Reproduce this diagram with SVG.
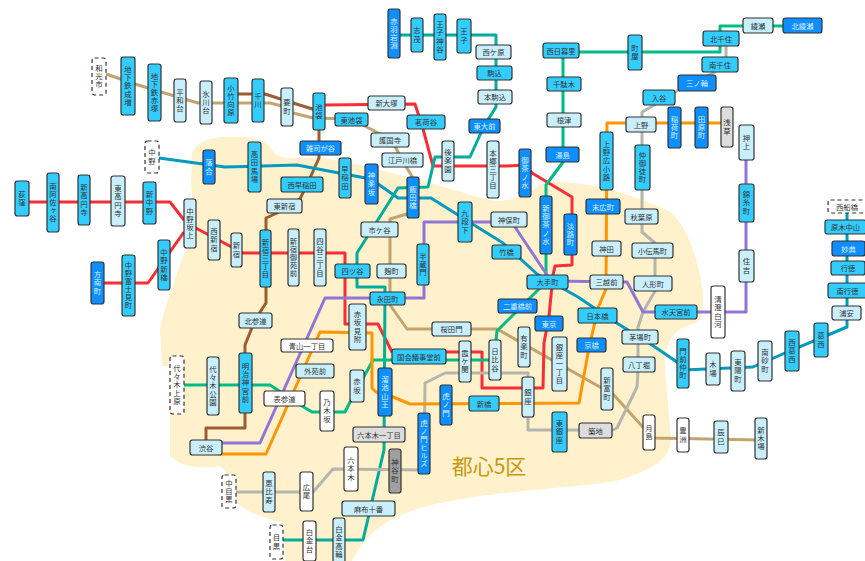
<svg xmlns="http://www.w3.org/2000/svg" width="865" height="561" viewBox="0 0 865 561">
<style>
text{font-family:"Noto Sans CJK JP","Noto Sans",sans-serif;fill:#333;text-anchor:middle}
.h text{font-size:7.3px;dominant-baseline:central}
.v text{font-size:7.4px;writing-mode:vertical-rl;text-orientation:upright;letter-spacing:.7px}
rect{stroke:#333;stroke-width:1.2px;rx:2.5px}
.cy rect{fill:#33ccff}
.bl rect{fill:#0f8fff}
.bl text{fill:#d8f2ff}
.li rect{fill:#c9effd}
.wh rect{fill:#fff}
.gr rect{fill:#ddd}
.dk rect{fill:#a0a0a0}
.da rect{fill:#fff;stroke-dasharray:4 3}
polyline{fill:none;stroke-width:3px;stroke-linejoin:round}
.tan{stroke:#c1a470}.bro{stroke:#9c5e31}.red{stroke:#f62e36}.toz{stroke:#009bbf}.chi{stroke:#00bb85}.nam{stroke:#00ac9b}.hib{stroke:#b5b5ac}.gin{stroke:#ff9500}.han{stroke:#8f76d6}
</style>
<path id="area" fill="#fef1cc" d="M192 165C188 145 205 137 227 137C250 136 265 138 272 150C278 160 290 158 317 158C345 160 380 170 407 177C425 180 450 190 490 200C510 204 525 195 537 187C545 180 560 180 600 187C630 194 650 203 667 210C685 220 700 260 703 295C704 315 703 320 690 325C672 330 664 345 665 370L671 440C671 460 650 470 620 480C590 487 500 490 440 503C400 512 370 525 352 561L285 561L283 523C265 518 240 512 232 495C230 480 228 470 218 466C200 470 180 466 170 456L170 366L162 366L160 330C165 300 190 240 197 220C192 205 190 185 192 165Z"/>
<text x="489" y="465" style="font-size:21px;fill:#c9980f;dominant-baseline:central">都心5区</text>
<g id="connectors">
<polyline class="tan" points="106,74 135,84 161,92 198,103 206,103 270,103 282,106 293,113 313,118 351,119 392,140 402,160 413,178 413,214 407,214 390,219 390,305 407,329 497,329 600,387 613,394 650,435 655,438 761,440"/>
<polyline class="bro" points="238,94 265,94 293,103 319,111 319,158 310,178 300,199 284,206 277,213 266,218 266,303 255,320 245,345 245,428 206,428 206,445"/>
<polyline class="red" points="29,202 170,202 184,220"/>
<polyline class="red" points="104,283 148,283 184,232"/>
<polyline class="red" points="190,225 243,253 345,253 345,324 378,324 392,352 482,352 482,388 543,388 544,343 549,316 553,275 555,266 572,265 572,197 532,173 525,165 507,166 433,166 423,129 415,104 325,105"/>
<polyline class="toz" points="159,158 203,164 225,167 297,165 339,173 371,179 398,198 431,198 458,215 503,243 537,274 578,297 615,322 649,343 677,362 683,370 753,367 785,353 828,335 847,327 847,213"/>
<polyline class="nam" points="394,35 496,35 496,107 484,126 470,157 435,157 428,187 398,188 357,253 357,287 385,287 384,450 363,540 283,540"/>
<polyline class="chi" points="783,26 720,26 720,52 563,52 563,162 546,185 546,282 497,331 494,360 373,360 350,402 345,412 312,412 302,406 270,385 184,385"/>
<polyline class="hib" points="726,40 726,57 715,72 675,92 651,107 642,112 642,232 655,243 655,291 643,312 638,327 638,372 637,387 617,428 613,430 528,430 528,373 445,373 425,383 424,470 333,469 313,492 236,492"/>
<polyline class="gin" points="727,123 607,123 606,289 598,308 588,353 579,403 410,404 393,397 376,392 372,388 372,333 320,332 266,454 218,454"/>
<polyline class="han" points="218,443 260,443 325,298 424,298 424,222 517,222 515,227 547,275 550,281 627,282 643,312 746,312 746,150"/>
</g>
<g id="st-和光市" class="v da"><rect x="92" y="58" width="14" height="37"/><text x="99" y="76.500">和光市</text></g>
<g id="st-地下鉄成増" class="v cy"><rect x="121" y="57" width="14" height="58"/><text x="128" y="86">地下鉄成増</text></g>
<g id="st-地下鉄赤塚" class="v cy"><rect x="148" y="64" width="13" height="57"/><text x="154.500" y="92.500">地下鉄赤塚</text></g>
<g id="st-平和台" class="v li"><rect x="174" y="79" width="12" height="43"/><text x="180" y="100.500">平和台</text></g>
<g id="st-氷川台" class="v li"><rect x="200" y="81" width="12" height="43"/><text x="206" y="102.500">氷川台</text></g>
<g id="st-小竹向原" class="v cy"><rect x="224" y="78" width="14" height="45"/><text x="231" y="100.500">小竹向原</text></g>
<g id="st-千川" class="v cy"><rect x="252" y="79" width="12" height="43"/><text x="258" y="100.500">千川</text></g>
<g id="st-要町" class="v li"><rect x="281" y="88" width="12" height="38"/><text x="287" y="107">要町</text></g>
<g id="st-池袋" class="v cy"><rect x="313" y="93" width="12" height="37"/><text x="319" y="111.500">池袋</text></g>
<g id="st-赤羽岩淵" class="v bl"><rect x="388" y="9" width="12" height="49"/><text x="394" y="33.500">赤羽岩淵</text></g>
<g id="st-志茂" class="v cy"><rect x="411" y="18" width="12" height="34"/><text x="417" y="35">志茂</text></g>
<g id="st-王子神谷" class="v cy"><rect x="434" y="14" width="12" height="46"/><text x="440" y="37">王子神谷</text></g>
<g id="st-王子" class="v cy"><rect x="457" y="19" width="14" height="34"/><text x="464" y="36">王子</text></g>
<g id="st-西ケ原" class="h li"><rect x="476" y="45" width="35" height="14"/><text x="493.500" y="52">西ケ原</text></g>
<g id="st-駒込" class="h cy"><rect x="477" y="66" width="35" height="14"/><text x="494.500" y="73">駒込</text></g>
<g id="st-本駒込" class="h li"><rect x="478" y="90" width="34" height="14"/><text x="495" y="97">本駒込</text></g>
<g id="st-東大前" class="h bl"><rect x="469" y="119" width="31" height="14"/><text x="484.500" y="126">東大前</text></g>
<g id="st-新大塚" class="h li"><rect x="368" y="96" width="37" height="14"/><text x="386.500" y="103">新大塚</text></g>
<g id="st-茗荷谷" class="h cy"><rect x="407" y="115" width="38" height="14"/><text x="426" y="122">茗荷谷</text></g>
<g id="st-東池袋" class="h cy"><rect x="335" y="113" width="33" height="13"/><text x="351.500" y="119.500">東池袋</text></g>
<g id="st-護国寺" class="h li"><rect x="371" y="133" width="38" height="14"/><text x="390" y="140">護国寺</text></g>
<g id="st-江戸川橋" class="h li"><rect x="382" y="153" width="41" height="14"/><text x="402.500" y="160">江戸川橋</text></g>
<g id="st-雑司が谷" class="h bl"><rect x="300" y="141" width="41" height="14"/><text x="320.500" y="148">雑司が谷</text></g>
<g id="st-後楽園" class="v li"><rect x="442" y="141" width="12" height="40"/><text x="448" y="161">後楽園</text></g>
<g id="st-本郷三丁目" class="v li"><rect x="487" y="141" width="12" height="57"/><text x="493" y="169.500">本郷三丁目</text></g>
<g id="st-御茶ノ水" class="v bl"><rect x="519" y="149" width="12" height="48"/><text x="525" y="173">御茶ノ水</text></g>
<g id="st-西日暮里" class="h cy"><rect x="543" y="43" width="36" height="15"/><text x="561" y="50.500">西日暮里</text></g>
<g id="st-千駄木" class="h cy"><rect x="547" y="77" width="34" height="14"/><text x="564" y="84">千駄木</text></g>
<g id="st-根津" class="h li"><rect x="547" y="113" width="34" height="14"/><text x="564" y="120">根津</text></g>
<g id="st-湯島" class="h bl"><rect x="546" y="147" width="33" height="15"/><text x="562.500" y="154.500">湯島</text></g>
<g id="st-町屋" class="v cy"><rect x="628" y="35" width="14" height="35"/><text x="635" y="52.500">町屋</text></g>
<g id="st-北千住" class="h cy"><rect x="703" y="31" width="36" height="15"/><text x="721" y="38.500">北千住</text></g>
<g id="st-綾瀬" class="h li"><rect x="743" y="18" width="30" height="15"/><text x="758" y="25.500">綾瀬</text></g>
<g id="st-北綾瀬" class="h bl"><rect x="783" y="18" width="39" height="15"/><text x="802.500" y="25.500">北綾瀬</text></g>
<g id="st-南千住" class="h cy"><rect x="702" y="57" width="36" height="15"/><text x="720" y="64.500">南千住</text></g>
<g id="st-三ノ輪" class="h bl"><rect x="678" y="75" width="38" height="16"/><text x="697" y="83">三ノ輪</text></g>
<g id="st-入谷" class="h cy"><rect x="643" y="90" width="32" height="15"/><text x="659" y="97.500">入谷</text></g>
<g id="st-上野" class="h li"><rect x="626" y="117" width="30" height="15"/><text x="641" y="124.500">上野</text></g>
<g id="st-稲荷町" class="v bl"><rect x="668" y="107" width="13" height="41"/><text x="674.500" y="127.500">稲荷町</text></g>
<g id="st-田原町" class="v bl"><rect x="695" y="107" width="13" height="41"/><text x="701.500" y="127.500">田原町</text></g>
<g id="st-浅草" class="v gr"><rect x="721" y="107" width="12" height="40"/><text x="727" y="127">浅草</text></g>
<g id="st-押上" class="v li"><rect x="739" y="125" width="15" height="35"/><text x="746.500" y="142.500">押上</text></g>
<g id="st-上野広小路" class="v cy"><rect x="600" y="132" width="13" height="58"/><text x="606.500" y="161">上野広小路</text></g>
<g id="st-仲御徒町" class="v cy"><rect x="635" y="145" width="15" height="45"/><text x="642.500" y="167.500">仲御徒町</text></g>
<g id="st-錦糸町" class="v cy"><rect x="739" y="184" width="15" height="38"/><text x="746.500" y="203">錦糸町</text></g>
<g id="st-住吉" class="v li"><rect x="739" y="250" width="15" height="32"/><text x="746.500" y="266">住吉</text></g>
<g id="st-末広町" class="h bl"><rect x="586" y="199" width="34" height="15"/><text x="603" y="206.500">末広町</text></g>
<g id="st-秋葉原" class="h li"><rect x="625" y="209" width="33" height="15"/><text x="641.500" y="216.500">秋葉原</text></g>
<g id="st-神田" class="h li"><rect x="592" y="241" width="29" height="15"/><text x="606.500" y="248.500">神田</text></g>
<g id="st-小伝馬町" class="h li"><rect x="632" y="243" width="41" height="15"/><text x="652.500" y="250.500">小伝馬町</text></g>
<g id="st-三越前" class="h li"><rect x="590" y="275" width="33" height="14"/><text x="606.500" y="282">三越前</text></g>
<g id="st-人形町" class="h li"><rect x="634" y="276" width="38" height="15"/><text x="653" y="283.500">人形町</text></g>
<g id="st-水天宮前" class="h cy"><rect x="655" y="305" width="42" height="14"/><text x="676" y="312">水天宮前</text></g>
<g id="st-清澄白河" class="v wh"><rect x="711" y="286" width="14" height="52"/><text x="718" y="312">清澄白河</text></g>
<g id="st-日本橋" class="h cy"><rect x="578" y="308" width="39" height="15"/><text x="597.500" y="315.500">日本橋</text></g>
<g id="st-茅場町" class="h li"><rect x="622" y="330" width="36" height="14"/><text x="640" y="337">茅場町</text></g>
<g id="st-八丁堀" class="h li"><rect x="623" y="357" width="32" height="15"/><text x="639" y="364.500">八丁堀</text></g>
<g id="st-京橋" class="h bl"><rect x="577" y="338" width="29" height="14"/><text x="591.500" y="345">京橋</text></g>
<g id="st-門前仲町" class="v cy"><rect x="677" y="339" width="12" height="49"/><text x="683" y="363.500">門前仲町</text></g>
<g id="st-木場" class="v li"><rect x="706" y="353" width="14" height="32"/><text x="713" y="369">木場</text></g>
<g id="st-東陽町" class="v li"><rect x="731" y="351" width="14" height="40"/><text x="738" y="371">東陽町</text></g>
<g id="st-南砂町" class="v li"><rect x="758" y="341" width="14" height="40"/><text x="765" y="361">南砂町</text></g>
<g id="st-西葛西" class="v cy"><rect x="785" y="331" width="14" height="40"/><text x="792" y="351">西葛西</text></g>
<g id="st-葛西" class="v cy"><rect x="814" y="323" width="14" height="34"/><text x="821" y="340">葛西</text></g>
<g id="st-浦安" class="h li"><rect x="832" y="306" width="29" height="14"/><text x="846.500" y="313">浦安</text></g>
<g id="st-南行徳" class="h cy"><rect x="828" y="283" width="39" height="15"/><text x="847.500" y="290.500">南行徳</text></g>
<g id="st-行徳" class="h cy"><rect x="831" y="261" width="34" height="14"/><text x="848" y="268">行徳</text></g>
<g id="st-妙典" class="h bl"><rect x="832" y="241" width="33" height="15"/><text x="848.500" y="248.500">妙典</text></g>
<g id="st-原木中山" class="h cy"><rect x="825" y="220" width="41" height="14"/><text x="845.500" y="227">原木中山</text></g>
<g id="st-西船橋" class="h da"><rect x="828" y="200" width="38" height="13"/><text x="847" y="206.500">西船橋</text></g>
<g id="st-荻窪" class="v cy"><rect x="15" y="181" width="14" height="35"/><text x="22" y="198.500">荻窪</text></g>
<g id="st-南阿佐ヶ谷" class="v cy"><rect x="47" y="173" width="12" height="59"/><text x="53" y="202.500">南阿佐ヶ谷</text></g>
<g id="st-新高円寺" class="v cy"><rect x="78" y="175" width="12" height="50"/><text x="84" y="200">新高円寺</text></g>
<g id="st-東高円寺" class="v li"><rect x="111" y="176" width="14" height="50"/><text x="118" y="201">東高円寺</text></g>
<g id="st-新中野" class="v cy"><rect x="143" y="182" width="13" height="42"/><text x="149.500" y="203">新中野</text></g>
<g id="st-中野" class="v da"><rect x="145" y="141" width="14" height="32"/><text x="152" y="157">中野</text></g>
<g id="st-中野坂上" class="v li"><rect x="184" y="199" width="12" height="49"/><text x="190" y="223.500">中野坂上</text></g>
<g id="st-西新宿" class="v li"><rect x="208" y="220" width="12" height="40"/><text x="214" y="240">西新宿</text></g>
<g id="st-新宿" class="v li"><rect x="231" y="233" width="11" height="34"/><text x="236.500" y="250">新宿</text></g>
<g id="st-新宿三丁目" class="v cy"><rect x="260" y="230" width="11" height="57"/><text x="265.500" y="258.500">新宿三丁目</text></g>
<g id="st-新宿御苑前" class="v li"><rect x="288" y="229" width="11" height="57"/><text x="293.500" y="257.500">新宿御苑前</text></g>
<g id="st-四谷三丁目" class="v li"><rect x="314" y="229" width="12" height="57"/><text x="320" y="257.500">四谷三丁目</text></g>
<g id="st-中野新橋" class="v cy"><rect x="158" y="240" width="12" height="50"/><text x="164" y="265">中野新橋</text></g>
<g id="st-方南町" class="v bl"><rect x="91" y="262" width="13" height="42"/><text x="97.500" y="283">方南町</text></g>
<g id="st-中野富士見町" class="v cy"><rect x="122" y="255" width="13" height="61"/><text x="128.500" y="285.500">中野富士見町</text></g>
<g id="st-東新宿" class="h li"><rect x="267" y="199" width="35" height="14"/><text x="284.500" y="206">東新宿</text></g>
<g id="st-西早稲田" class="h cy"><rect x="281" y="177" width="42" height="15"/><text x="302" y="184.500">西早稲田</text></g>
<g id="st-早稲田" class="v cy"><rect x="339" y="158" width="12" height="40"/><text x="345" y="178">早稲田</text></g>
<g id="st-神楽坂" class="v bl"><rect x="365" y="164" width="13" height="40"/><text x="371.500" y="184">神楽坂</text></g>
<g id="st-高田馬場" class="v cy"><rect x="248" y="142" width="13" height="50"/><text x="254.500" y="167">高田馬場</text></g>
<g id="st-落合" class="v bl"><rect x="203" y="150" width="12" height="34"/><text x="209" y="167">落合</text></g>
<g id="st-飯田橋" class="v bl"><rect x="407" y="177" width="12" height="41"/><text x="413" y="197.500">飯田橋</text></g>
<g id="st-市ケ谷" class="h li"><rect x="361" y="222" width="37" height="15"/><text x="379.500" y="229.500">市ケ谷</text></g>
<g id="st-九段下" class="v cy"><rect x="458" y="202" width="14" height="40"/><text x="465" y="222">九段下</text></g>
<g id="st-神保町" class="h li"><rect x="491" y="212" width="36" height="15"/><text x="509" y="219.500">神保町</text></g>
<g id="st-竹橋" class="h cy"><rect x="492" y="245" width="29" height="14"/><text x="506.500" y="252">竹橋</text></g>
<g id="st-半蔵門" class="v cy"><rect x="417" y="244" width="12" height="41"/><text x="423" y="264.500">半蔵門</text></g>
<g id="st-四ツ谷" class="h cy"><rect x="335" y="264" width="35" height="14"/><text x="352.500" y="271">四ツ谷</text></g>
<g id="st-麹町" class="h li"><rect x="377" y="264" width="29" height="14"/><text x="391.500" y="271">麹町</text></g>
<g id="st-永田町" class="h cy"><rect x="370" y="292" width="35" height="13"/><text x="387.500" y="298.500">永田町</text></g>
<g id="st-大手町" class="h cy"><rect x="527" y="275" width="41" height="14"/><text x="547.500" y="282">大手町</text></g>
<g id="st-新御茶ノ水" class="v bl"><rect x="540" y="196" width="12" height="58"/><text x="546" y="225">新御茶ノ水</text></g>
<g id="st-淡路町" class="v bl"><rect x="564" y="214" width="13" height="41"/><text x="570.500" y="234.500">淡路町</text></g>
<g id="st-二重橋前" class="h bl"><rect x="498" y="299" width="39" height="14"/><text x="517.500" y="306">二重橋前</text></g>
<g id="st-東京" class="h bl"><rect x="535" y="316" width="28" height="15"/><text x="549" y="323.500">東京</text></g>
<g id="st-桜田門" class="h li"><rect x="432" y="322" width="39" height="14"/><text x="451.500" y="329">桜田門</text></g>
<g id="st-赤坂見附" class="v li"><rect x="349" y="304" width="17" height="46"/><text x="357.500" y="327">赤坂見附</text></g>
<g id="st-有楽町" class="v li"><rect x="518" y="327" width="12" height="40"/><text x="524" y="347">有楽町</text></g>
<g id="st-日比谷" class="v li"><rect x="489" y="340" width="12" height="40"/><text x="495" y="360">日比谷</text></g>
<g id="st-霞ケ関" class="v li"><rect x="459" y="341" width="12" height="41"/><text x="465" y="361.500">霞ケ関</text></g>
<g id="st-銀座一丁目" class="v li"><rect x="552" y="337" width="15" height="54"/><text x="559.500" y="364">銀座一丁目</text></g>
<g id="st-国会議事堂前" class="h cy"><rect x="392" y="349" width="54" height="15"/><text x="419" y="356.500">国会議事堂前</text></g>
<g id="st-溜池山王" class="v bl"><rect x="378" y="368" width="14" height="48"/><text x="385" y="392">溜池山王</text></g>
<g id="st-赤坂" class="v li"><rect x="350" y="370" width="14" height="32"/><text x="357" y="386">赤坂</text></g>
<g id="st-青山一丁目" class="h wh"><rect x="281" y="339" width="52" height="13"/><text x="307" y="345.500">青山一丁目</text></g>
<g id="st-外苑前" class="h li"><rect x="296" y="364" width="38" height="14"/><text x="315" y="371">外苑前</text></g>
<g id="st-表参道" class="h wh"><rect x="264" y="391" width="41" height="15"/><text x="284.500" y="398.500">表参道</text></g>
<g id="st-乃木坂" class="v wh"><rect x="320" y="391" width="14" height="40"/><text x="327" y="411">乃木坂</text></g>
<g id="st-代々木上原" class="v da"><rect x="170" y="356" width="14" height="58"/><text x="177" y="385">代々木上原</text></g>
<g id="st-代々木公園" class="v li"><rect x="207" y="357" width="12" height="58"/><text x="213" y="386">代々木公園</text></g>
<g id="st-明治神宮前" class="v cy"><rect x="239" y="353" width="13" height="60"/><text x="245.500" y="383">明治神宮前</text></g>
<g id="st-北参道" class="h li"><rect x="239" y="313" width="33" height="15"/><text x="255.500" y="320.500">北参道</text></g>
<g id="st-渋谷" class="h li"><rect x="190" y="440" width="32" height="15"/><text x="206" y="447.500">渋谷</text></g>
<g id="st-虎ノ門" class="v bl"><rect x="440" y="385" width="12" height="40"/><text x="446" y="405">虎ノ門</text></g>
<g id="st-虎ノ門ヒルズ" class="v bl"><rect x="418" y="413" width="12" height="61"/><text x="424" y="443.500">虎ノ門ヒルズ</text></g>
<g id="st-新橋" class="h cy"><rect x="469" y="396" width="30" height="15"/><text x="484" y="403.500">新橋</text></g>
<g id="st-銀座" class="v li"><rect x="522" y="377" width="12" height="40"/><text x="528" y="397">銀座</text></g>
<g id="st-新富町" class="v li"><rect x="601" y="368" width="12" height="42"/><text x="607" y="389">新富町</text></g>
<g id="st-東銀座" class="v cy"><rect x="552" y="412" width="15" height="40"/><text x="559.500" y="432">東銀座</text></g>
<g id="st-築地" class="h gr"><rect x="579" y="423" width="33" height="15"/><text x="595.500" y="430.500">築地</text></g>
<g id="st-月島" class="v wh"><rect x="643" y="415" width="12" height="35"/><text x="649" y="432.500">月島</text></g>
<g id="st-豊洲" class="v wh"><rect x="677" y="418" width="12" height="34"/><text x="683" y="435">豊洲</text></g>
<g id="st-辰巳" class="v li"><rect x="714" y="421" width="14" height="32"/><text x="721" y="437">辰巳</text></g>
<g id="st-新木場" class="v li"><rect x="755" y="418" width="12" height="41"/><text x="761" y="438.500">新木場</text></g>
<g id="st-六本木一丁目" class="h gr"><rect x="353" y="427" width="52" height="15"/><text x="379" y="434.500">六本木一丁目</text></g>
<g id="st-六本木" class="v wh"><rect x="344" y="447" width="14" height="44"/><text x="351" y="469">六本木</text></g>
<g id="st-神谷町" class="v dk"><rect x="389" y="449" width="12" height="44"/><text x="395" y="471">神谷町</text></g>
<g id="st-広尾" class="v wh"><rect x="300" y="472" width="13" height="39"/><text x="306.500" y="491.500">広尾</text></g>
<g id="st-恵比寿" class="v li"><rect x="263" y="472" width="12" height="40"/><text x="269" y="492">恵比寿</text></g>
<g id="st-中目黒" class="v da"><rect x="222" y="475" width="14" height="33"/><text x="229" y="491.500">中目黒</text></g>
<g id="st-麻布十番" class="h li"><rect x="342" y="501" width="53" height="15"/><text x="368.500" y="508.500">麻布十番</text></g>
<g id="st-目黒" class="v da"><rect x="270" y="525" width="13" height="34"/><text x="276.500" y="542">目黒</text></g>
<g id="st-白金台" class="v wh"><rect x="303" y="521" width="13" height="40"/><text x="309.500" y="541">白金台</text></g>
<g id="st-白金高輪" class="v li"><rect x="333" y="518" width="12" height="48"/><text x="339" y="542">白金高輪</text></g>
</svg>
